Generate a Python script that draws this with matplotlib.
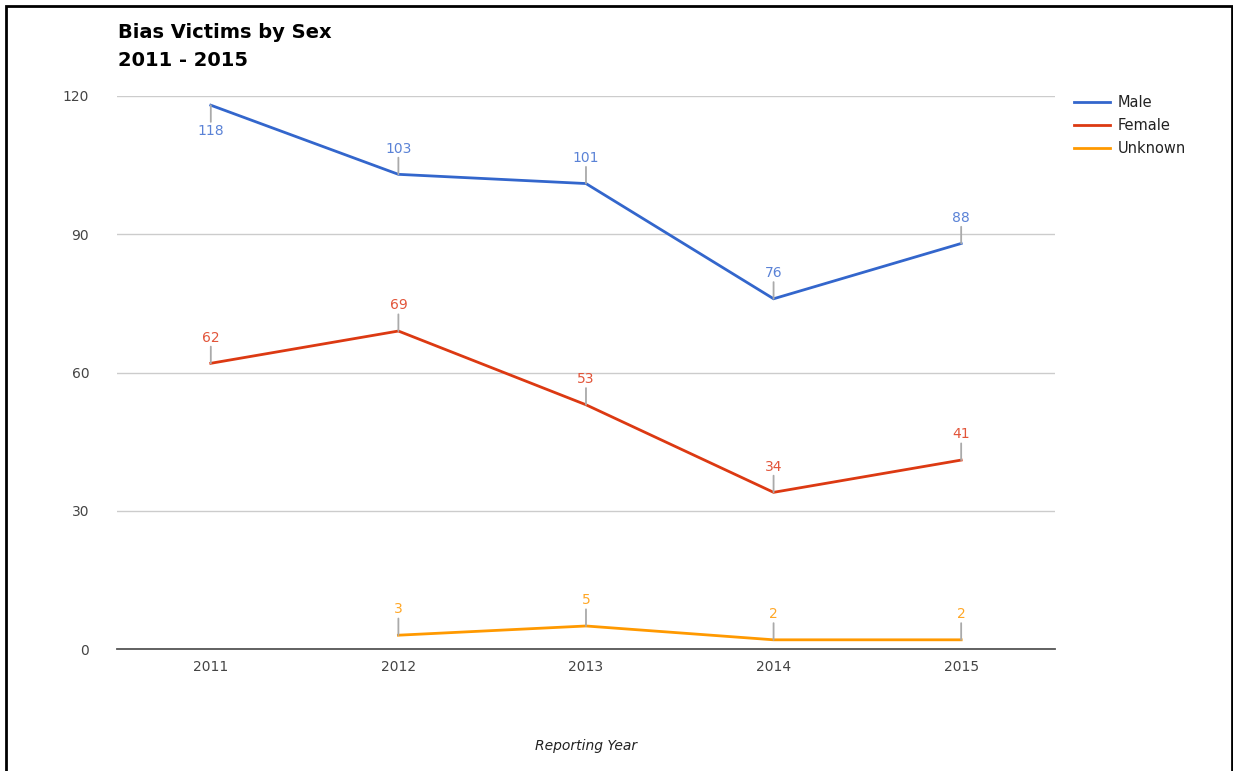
import numpy as np
import matplotlib.pyplot as plt
from matplotlib.patches import Rectangle

plt.rcParams['font.family'] = ['DejaVu Sans']

# 数据
years = ['2011', '2012', '2013', '2014', '2015']
male = [118, 103, 101, 76, 88]
female = [62, 69, 53, 34, 41]
unknown = [np.nan, 3, 5, 2, 2]

series_names = ['Male', 'Female', 'Unknown']
series_values = [male, female, unknown]
colors = ['#3366cc', '#dc3912', '#ff9900']
label_colors = ['#5a82d6', '#e2553a', '#ffa726']
below_labels = {(0, 0)}  # (series, index) 标签放在点下方

fig = plt.figure(figsize=(12.33, 7.71), dpi=100)
fig.set_facecolor('white')
ax = fig.add_axes([0.0949, 0.1582, 0.7607, 0.7173])

x = np.arange(len(years))
for s, (name, vals) in enumerate(zip(series_names, series_values)):
    ax.plot(x, vals, color=colors[s], linewidth=2.0, label=name,
            solid_joinstyle='miter')
    for i, v in enumerate(vals):
        if np.isnan(v):
            continue
        sign = -1 if (s, i) in below_labels else 1
        # 引线
        ax.annotate('', xy=(i, v), xytext=(0, sign * 12),
                    textcoords='offset points',
                    arrowprops=dict(arrowstyle='-', color='#aaaaaa', lw=1.3,
                                    shrinkA=0, shrinkB=0))
        ax.annotate(str(int(v)), xy=(i, v), xytext=(0, sign * 13.5),
                    textcoords='offset points', ha='center',
                    va='bottom' if sign > 0 else 'top',
                    fontsize=10, color=label_colors[s])

ax.set_xlim(-0.5, len(years) - 0.5)
ax.set_ylim(0, 120)
ax.set_yticks([0, 30, 60, 90, 120])
ax.set_xticks(x)
ax.set_xticklabels(years)
ax.tick_params(axis='both', length=0, labelsize=10, labelcolor='#444444')
ax.tick_params(axis='y', pad=20)
ax.tick_params(axis='x', pad=8)

ax.grid(axis='y', color='#cccccc', linewidth=1)
ax.set_axisbelow(True)
for side in ['top', 'right', 'left']:
    ax.spines[side].set_visible(False)
ax.spines['bottom'].set_color('#555555')
ax.spines['bottom'].set_linewidth(1.3)

fig.text(0.4753, 0.0324, 'Reporting Year', fontsize=10, style='italic',
         color='#222222', ha='center', va='center')

fig.text(0.0957, 0.958, 'Bias Victims by Sex', fontsize=14, fontweight='bold',
         color='#000000', va='center')
fig.text(0.0957, 0.922, '2011 - 2015', fontsize=14, fontweight='bold',
         color='#000000', va='center')

fig.legend(loc='upper left', bbox_to_anchor=(0.866, 0.884), frameon=False,
           fontsize=10.5, handlelength=2.5, handletextpad=0.5,
           labelspacing=0.55, labelcolor='#222222', borderaxespad=0)

# 外框
fig.patches.append(Rectangle((0.0045, -0.05), 0.9945, 1.042,
                             transform=fig.transFigure, fill=False,
                             edgecolor='black', linewidth=2))

fig.savefig('out.png', dpi=100, facecolor='white')
